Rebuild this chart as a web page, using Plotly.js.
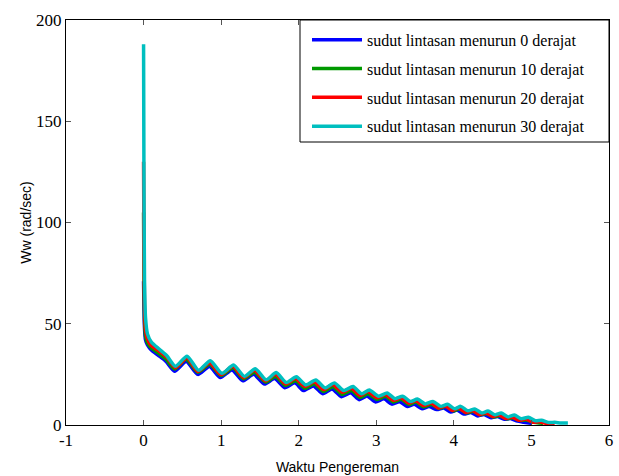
<!DOCTYPE html>
<html>
<head>
<meta charset="utf-8">
<script src="https://cdn.plot.ly/plotly-3.0.1.min.js"></script>
<style>html,body{margin:0;padding:0;background:#fff;}</style>
</head>
<body>
<div id="chart" style="width:619px;height:476px;"></div>
<script>
// Series names
const seriesNames = [
  "sudut lintasan menurun 0 derajat",
  "sudut lintasan menurun 10 derajat",
  "sudut lintasan menurun 20 derajat",
  "sudut lintasan menurun 30 derajat"
];
const seriesColors = ["#0000FF", "#009900", "#FF0000", "#00BFBF"];

// 0 derajat (blue)
const t0 = [0,0.005,0.012,0.025,0.05, 0.1,0.19,0.29, 0.40,0.55,0.70,0.85,0.99,1.14,1.28,1.42,1.56,1.69,
  1.82,1.95,2.06,2.19,2.31,2.43,2.55,2.67,2.78,2.88, 2.99,3.10,3.20,3.30,3.40,3.49,3.59,3.68,3.78,3.87,
  3.96,4.04,4.13,4.22,4.31,4.39,4.48,4.56,4.65,4.73, 4.82,4.90,5.00];
const w0 = [71,58,48,42,39.5, 37,34.4,31.4, 26.6,31.4,25,28.9,23.4,27.2,21.8,25,20.2,22.9,
  18.4,20.8,17,19.3,15.4,17.8,14,15.9,12.5,14.3, 11.4,12.9,10.3,11.5,9.1,10.2,8,9.1,7.6,8.4,
  6.4,7.4,5.4,6.2,4.5,5.2,3.6,4.2,2.8,3.2, 1.9,1.4,0.8];

// 10 derajat (green)
const t10 = [0,0.005,0.012,0.025,0.05, 0.1,0.19,0.29, 0.40,0.55,0.70,0.85,1.00,1.15,1.29,1.43,1.57,1.70,
  1.83,1.96,2.08,2.20,2.32,2.44,2.56,2.68,2.79,2.89, 3.01,3.12,3.22,3.32,3.42,3.51,3.61,3.71,3.81,3.90,
  3.99,4.07,4.16,4.25,4.34,4.42,4.51,4.59,4.68,4.76, 4.85,4.94,5.03,5.10,5.15];
const w10 = [105,72,52,44,40.5, 38,35.5,32.5, 27.7,32.5,26,30,24.4,28.3,22.8,26.1,21.2,24,
  19.5,21.9,18.1,20.4,16.5,18.9,15.1,17,13.6,15.4, 12.6,14.2,11.4,12.7,10.1,11.3,8.9,10.1,8.2,9.2,
  7.0,8.0,6.0,6.8,5.0,5.7,4.0,4.6,3.1,3.6, 2.3,2.4,1.4,1.0,0.8];

// 20 derajat (red)
const t20 = [0,0.005,0.012,0.025,0.05, 0.1,0.2,0.3, 0.41,0.56,0.70,0.85,1.00,1.15,1.29,1.43,1.57,1.70,
  1.83,1.96,2.08,2.20,2.32,2.44,2.56,2.68,2.79,2.89, 3.01,3.12,3.22,3.32,3.42,3.51,3.61,3.71,3.80,3.89,
  3.98,4.06,4.15,4.24,4.33,4.41,4.50,4.58,4.67,4.75, 4.84,4.93,5.02,5.10,5.18,5.24,5.30];
const w20 = [130,88,60,47,42.5, 39.2,36.5,33.4, 28.3,33.2,26.4,30.8,24.9,29,23.4,27,21.8,25,
  20.3,22.9,19,21.4,17.5,20,16.2,18.2,14.6,16.5, 13.4,15,12.2,13.4,10.8,12,9.6,10.8,8.4,9.4,
  7.2,8.4,6.2,7.1,5.1,6.1,4.2,5.0,3.2,4.0, 2.3,2.9,1.4,1.6,0.9,0.9,0.8];

// 30 derajat (cyan)
const t30 = [0,0.005,0.012,0.025,0.05, 0.1,0.2,0.3, 0.41,0.56,0.71,0.86,1.01,1.16,1.30,1.44,1.58,1.71,
  1.84,1.97,2.09,2.22,2.34,2.46,2.58,2.70,2.81,2.91, 3.03,3.14,3.24,3.34,3.44,3.53,3.63,3.73,3.83,3.92,
  4.01,4.09,4.18,4.27,4.36,4.44,4.53,4.61,4.70,4.78, 4.87,4.96,5.05,5.13,5.22,5.30,5.38,5.47];
const w30 = [188,120,72,53,45, 41,37.5,34.2, 29,34,27,31.7,25.5,29.6,24,27.8,22.3,25.9,
  21,23.8,19.8,22.2,18.3,20.8,17,19,15.4,17.3, 14.2,15.8,13.0,14.2,11.6,12.8,10.4,11.6,9.2,10.2,
  8.0,9.2,7.0,7.9,5.9,6.9,5.0,5.9,4.0,4.9, 3.1,3.8,2.1,2.3,1.2,1.3,1.0,1.0];

const xTickVals = [-1,0,1,2,3,4,5,6];
const xTickText = ["-1","0","1","2","3","4","5","6"];
const yTickVals = [0,50,100,150,200];
const yTickText = ["0","50","100","150","200"];

const xs = [t0, t10, t20, t30];
const ys = [w0, w10, w20, w30];

const traces = xs.map((x, i) => ({
  x: x, y: ys[i], type: "scatter", mode: "lines",
  name: seriesNames[i], legendgroup: "g" + i,
  line: {color: seriesColors[i], width: 3.5, shape: "spline", smoothing: 0.6}
}));

const serif = "Liberation Serif, Times New Roman, serif";
const sans = "Liberation Sans, Arial, sans-serif";

// legend frame in pixel terms of the plot area (l=66, r=609, t=20, b=425)
const legX0 = (300 - 66) / 543, legY0 = (425 - 142) / 405;

const layout = {
  width: 619, height: 476,
  margin: {l: 66, r: 10, t: 20, b: 51},
  paper_bgcolor: "white", plot_bgcolor: "white",
  showlegend: true,
  xaxis: {
    range: [-1, 6], tickmode: "array", tickvals: xTickVals, ticktext: xTickText,
    ticks: "inside", ticklen: 5, tickcolor: "#555", tickwidth: 1,
    showline: true, linecolor: "black", linewidth: 1, mirror: "ticks",
    showgrid: false, zeroline: false,
    tickfont: {family: serif, size: 17, color: "black"},
    title: {text: "Waktu Pengereman", font: {family: sans, size: 14, color: "black"}, standoff: 12}
  },
  yaxis: {
    range: [0, 200], tickmode: "array", tickvals: yTickVals, ticktext: yTickText,
    ticks: "inside", ticklen: 5, tickcolor: "#555", tickwidth: 1,
    showline: true, linecolor: "black", linewidth: 1, mirror: "ticks",
    showgrid: false, zeroline: false,
    tickfont: {family: serif, size: 17, color: "black"},
    title: {text: "Ww (rad/sec)", font: {family: sans, size: 14, color: "black"}, standoff: 1}
  },
  shapes: [{
    type: "rect", xref: "paper", yref: "paper", x0: legX0, x1: 1, y0: legY0, y1: 1,
    line: {color: "black", width: 1}, fillcolor: "white", layer: "above"
  }],
  legend: {
    x: (307 - 66) / 543, xanchor: "left", y: 0.993, yanchor: "top",
    borderwidth: 0, bgcolor: "rgba(0,0,0,0)",
    font: {family: serif, size: 16, color: "black"},
    itemwidth: 50,
    traceorder: "grouped", tracegroupgap: 5
  }
};

Plotly.newPlot("chart", traces, layout, {displayModeBar: false, staticPlot: true});
</script>
</body>
</html>
